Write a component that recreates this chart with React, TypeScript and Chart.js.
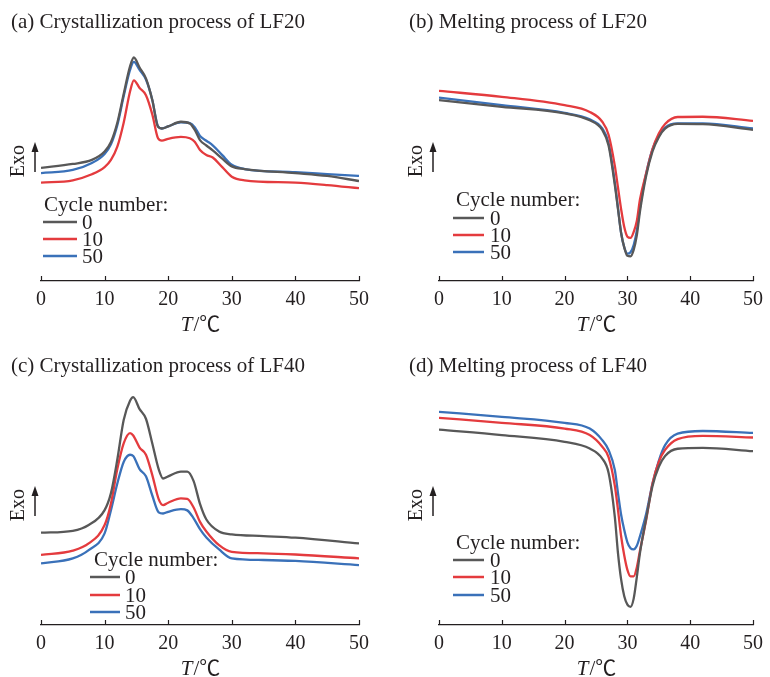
import React, { useEffect, useRef } from "react";
import { Chart, registerables } from "chart.js";

Chart.register(...registerables);

// ---------- data ----------
const SERIES_LABELS = ["0", "10", "50"];
const SERIES_COLORS = ["#585858", "#e43b3e", "#3a71b9"];
const X_TICKS = [0, 10, 20, 30, 40, 50];

// (a) Crystallization process of LF20
const T_A = [0, 5, 8, 10, 11, 12, 13, 14, 14.6, 15.5, 16.5, 17.5, 18.4, 19, 20, 22, 23.4, 24.2, 25, 26, 27, 28.5, 30, 32, 40, 45, 50];
const A_0 = [47.2, 48.8, 50.5, 54, 58, 66, 78, 89.5, 93.2, 89, 84.5, 75.5, 64.3, 63.6, 64.5, 66.4, 65.7, 62.9, 58.75, 56.5, 54.5, 51, 47.8, 46.7, 45, 43.8, 41.7];
const A_10 = [41, 42, 44.5, 47.5, 50.5, 56, 66, 79, 83.7, 80.5, 77.5, 69.5, 59.5, 58.5, 59.3, 60.1, 59.5, 58, 54.6, 52.5, 51.5, 47.5, 43.5, 42, 41, 40, 38.7];
const A_50 = [45, 46.3, 49.2, 53, 57, 65, 77, 88, 91.4, 88, 84, 75.5, 64.5, 63.6, 64.5, 66.2, 65.8, 64, 60.5, 58.5, 56.6, 52.5, 48.5, 46.7, 45.4, 44.6, 43.8];

// (b) Melting process of LF20
const T_B = [0, 10, 20, 24, 26, 27, 28, 28.5, 29, 29.5, 30, 30.5, 31, 31.5, 32, 33, 34, 35, 36, 38, 42, 50];
const B_0 = [75.4, 72.6, 69.9, 67, 63, 56.5, 40, 30, 20, 14, 10.5, 10.3, 13, 19, 29, 44, 54, 60, 63.5, 65.5, 65.4, 63];
const B_10 = [79.3, 76.8, 73.3, 70.5, 66.4, 61, 48, 39, 30, 22.5, 18.5, 18, 20.5, 25, 34, 45, 55, 61.5, 65.5, 68.4, 68.5, 66.8];
const B_50 = [76.5, 73.3, 70.1, 67.4, 63.6, 57.5, 41, 30.5, 20, 14, 11.4, 12, 15, 21, 30.5, 45, 55, 60.5, 64, 65.7, 65.7, 63.6];

// (c) Crystallization process of LF40
const T_C = [0, 5, 7.5, 10, 11, 12, 13, 14, 14.5, 15.5, 16.5, 17.5, 18.5, 19.2, 20, 22, 23, 24, 25, 26, 28, 30, 35, 40, 50];
const C_0 = [38.5, 39.3, 41.7, 47.9, 55, 69, 85.5, 93.5, 95, 90, 86, 75.7, 65, 61.1, 62, 64, 64, 60, 50.5, 44, 39, 37.8, 37.1, 36.4, 34];
const C_10 = [29.2, 31, 34, 41.7, 50.7, 65, 75.7, 80, 79, 74, 71, 62.5, 52.5, 50, 51, 52.8, 52.6, 49, 43, 39, 33.3, 30.5, 29.9, 29.4, 27.8];
const C_50 = [25.7, 27.8, 31.25, 38.2, 47.9, 59, 68, 71, 70.5, 65, 62, 54, 47, 46.5, 47.2, 48.3, 47.8, 44.5, 40, 36.5, 31.5, 27.8, 27.1, 26.7, 25];

// (d) Melting process of LF40
const T_D = [0, 10, 20, 24, 26, 27, 28, 28.5, 29, 29.5, 30, 30.5, 31, 31.5, 32, 33, 34, 35, 36, 38, 42, 50];
const D_0 = [81.5, 79.2, 76.4, 73.6, 69.4, 63.5, 45, 30, 19, 12, 8.5, 7.6, 11, 20, 30, 44.5, 58, 66, 70.5, 73.5, 73.9, 72.5];
const D_10 = [86.4, 84.3, 81.9, 79.2, 74.3, 70, 58, 48, 37, 29, 23, 20.3, 20.3, 24, 31, 44, 59, 68, 73, 77.5, 78.9, 78.2];
const D_50 = [88.9, 86.8, 84.3, 81.9, 77.1, 73, 64.6, 55, 46, 39.6, 34.5, 32, 31.5, 33, 37, 46.5, 59, 68.5, 75, 79.8, 80.9, 80.1];

// ---------- layout / style ----------
const FONT = "'Liberation Serif', 'Times New Roman', 'Noto Sans CJK SC', serif";
const TEXT = "#231f20";

type LegendPos = { x: number; y: number; lineX1: number; lineX2: number; labelX: number; rows: number[] };
type Panel = {
  title: string;
  t: number[];
  series: number[][];
  left: number;
  top: number;
  width: number;
  height: number;
  padRight: number;
  padBottom: number;
  legend: LegendPos;
};

const PANELS: Panel[] = [
  {
    title: "(a) Crystallization process of LF20",
    t: T_A, series: [A_0, A_10, A_50],
    left: 0, top: 0, width: 385, height: 340, padRight: 26, padBottom: 9,
    legend: { x: 44, y: 205, lineX1: 43, lineX2: 77, labelX: 82, rows: [222, 239, 256] },
  },
  {
    title: "(b) Melting process of LF20",
    t: T_B, series: [B_0, B_10, B_50],
    left: 398, top: 0, width: 372, height: 340, padRight: 13, padBottom: 9,
    legend: { x: 58, y: 200, lineX1: 55, lineX2: 86, labelX: 92, rows: [218, 235, 252] },
  },
  {
    title: "(c) Crystallization process of LF40",
    t: T_C, series: [C_0, C_10, C_50],
    left: 0, top: 344, width: 385, height: 333, padRight: 26, padBottom: 2,
    legend: { x: 94, y: 216, lineX1: 90, lineX2: 120, labelX: 125, rows: [233, 251, 268] },
  },
  {
    title: "(d) Melting process of LF40",
    t: T_D, series: [D_0, D_10, D_50],
    left: 398, top: 344, width: 372, height: 333, padRight: 13, padBottom: 2,
    legend: { x: 58, y: 199, lineX1: 55, lineX2: 86, labelX: 92, rows: [216, 233, 251] },
  },
];

const decorPlugin = {
  id: "decor",
  afterDraw(chart: any, _args: any, opts: any) {
    const ctx: CanvasRenderingContext2D = chart.ctx;
    const ca = chart.chartArea;
    const xs = chart.scales.x;
    ctx.save();
    // inward tick marks
    ctx.strokeStyle = TEXT;
    ctx.lineWidth = 1.2;
    xs.ticks.forEach((tk: any) => {
      const px = Math.round(xs.getPixelForValue(tk.value)) + 0.5;
      ctx.beginPath();
      ctx.moveTo(px, ca.bottom);
      ctx.lineTo(px, ca.bottom - 5);
      ctx.stroke();
    });
    // x axis title: italic T + /℃
    ctx.fillStyle = TEXT;
    ctx.textBaseline = "middle";
    ctx.textAlign = "left";
    const f1 = `italic 21px ${FONT}`;
    const f2 = `21px ${FONT}`;
    ctx.font = f1;
    const w1 = ctx.measureText("T").width;
    ctx.font = f2;
    const w2 = ctx.measureText("/℃").width;
    const cx = (ca.left + ca.right) / 2;
    const ty = ca.bottom + 44;
    const x0 = cx - (w1 + w2) / 2;
    ctx.font = f1;
    ctx.fillText("T", x0, ty);
    ctx.font = f2;
    ctx.fillText("/℃", x0 + w1 + 1, ty);
    // Exo arrow
    const ay = (ca.top + ca.bottom) / 2;
    const ax = ca.left - 6;
    ctx.lineWidth = 1.5;
    ctx.beginPath();
    ctx.moveTo(ax, ay + 11);
    ctx.lineTo(ax, ay - 12);
    ctx.stroke();
    ctx.beginPath();
    ctx.moveTo(ax, ay - 19);
    ctx.lineTo(ax - 3.5, ay - 9);
    ctx.lineTo(ax + 3.5, ay - 9);
    ctx.closePath();
    ctx.fill();
    // legend
    const lg: LegendPos = opts.legend;
    ctx.font = `21px ${FONT}`;
    ctx.fillStyle = TEXT;
    ctx.fillText("Cycle number:", lg.x, lg.y);
    chart.data.datasets.forEach((ds: any, i: number) => {
      const ry = lg.rows[i];
      ctx.strokeStyle = ds.borderColor;
      ctx.lineWidth = 2.5;
      ctx.beginPath();
      ctx.moveTo(lg.lineX1, ry);
      ctx.lineTo(lg.lineX2, ry);
      ctx.stroke();
      ctx.fillStyle = TEXT;
      ctx.fillText(ds.label, lg.labelX, ry + 1);
    });
    ctx.restore();
  },
};

function PanelChart({ p }: { p: Panel }) {
  const ref = useRef<HTMLCanvasElement | null>(null);
  useEffect(() => {
    if (!ref.current) return;
    const datasets = p.series.map((vals, i) => ({
      label: SERIES_LABELS[i],
      data: p.t.map((x, j) => ({ x, y: vals[j] })),
      borderColor: SERIES_COLORS[i],
      borderWidth: 2.3,
      pointRadius: 0,
      fill: false,
      cubicInterpolationMode: "monotone" as const,
    }));
    const chart = new Chart(ref.current, {
      type: "line",
      data: { datasets },
      plugins: [decorPlugin],
      options: {
        animation: false,
        responsive: false,
        layout: { padding: { left: 11, right: p.padRight, top: 0, bottom: p.padBottom } },
        plugins: {
          legend: { display: false },
          tooltip: { enabled: false },
          title: {
            display: true,
            text: p.title,
            align: "start",
            color: TEXT,
            font: { family: FONT, size: 21, weight: "normal" },
            padding: { top: 10, bottom: 6 },
          },
          decor: { legend: p.legend },
        } as any,
        scales: {
          x: {
            type: "linear",
            min: 0,
            max: 50,
            afterBuildTicks: (s: any) => {
              s.ticks = X_TICKS.map((v) => ({ value: v }));
            },
            afterFit: (s: any) => {
              s.height = 50;
            },
            grid: { display: false, drawTicks: false },
            border: { display: true, color: TEXT, width: 1.3 },
            ticks: {
              color: TEXT,
              padding: 7,
              maxRotation: 0,
              autoSkip: false,
              font: { family: FONT, size: 20 },
            },
          },
          y: {
            type: "linear",
            min: 0,
            max: 100,
            afterFit: (s: any) => {
              s.width = 30;
            },
            grid: { display: false, drawTicks: false },
            border: { display: false },
            ticks: { display: false },
            title: {
              display: true,
              text: "Exo",
              color: TEXT,
              padding: 0,
              font: { family: FONT, size: 20, lineHeight: 0.8 },
            },
          },
        },
      } as any,
    });
    return () => chart.destroy();
  }, [p]);
  return (
    <canvas
      ref={ref}
      width={p.width}
      height={p.height}
      style={{ position: "absolute", left: p.left, top: p.top, width: p.width, height: p.height }}
    />
  );
}

export default function App() {
  return (
    <div style={{ position: "fixed", left: 0, top: 0, width: 770, height: 677, background: "#fff", overflow: "hidden" }}>
      {PANELS.map((p, i) => (
        <PanelChart key={i} p={p} />
      ))}
    </div>
  );
}
